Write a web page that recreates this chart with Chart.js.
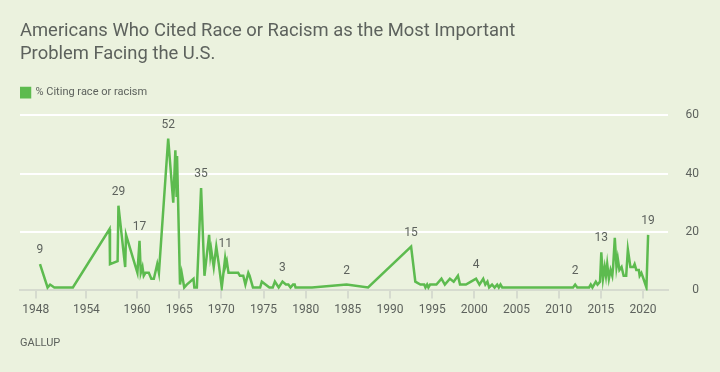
<!DOCTYPE html>
<html>
<head>
<meta charset="utf-8">
<script src="https://cdn.jsdelivr.net/npm/chart.js@4/dist/chart.umd.min.js"></script>
<style>
  html, body { margin: 0; padding: 0; background: #ebf2de; }
  #wrap { width: 720px; height: 372px; }
</style>
</head>
<body>
<div id="wrap"><canvas id="raceChart"></canvas></div>
<script>
// survey dates (decimal year) and % citing race or racism
const surveyYears = [
  1948.5, 1949.4, 1949.7, 1950.2, 1952.4, 1956.75, 1956.8, 1957.7, 1957.8, 1958.6,
  1958.7, 1960.05, 1960.3, 1960.45, 1960.65, 1960.8, 1961.0, 1961.4, 1961.7, 1962.0,
  1962.4, 1962.6, 1963.7, 1964.3, 1964.55, 1964.7, 1964.75, 1965.1, 1965.3, 1965.6,
  1965.9, 1966.7, 1966.8, 1967.1, 1967.6, 1968.0, 1968.55, 1968.7, 1968.8, 1969.1,
  1969.4, 1969.7, 1970.05, 1970.45, 1970.55, 1970.65, 1970.85, 1971.3, 1972.0, 1972.2,
  1972.6, 1972.85, 1973.2, 1973.35, 1973.75, 1974.6, 1974.8, 1975.7, 1976.1, 1976.35,
  1976.8, 1977.25, 1977.65, 1977.95, 1978.2, 1978.5, 1978.7, 1978.8, 1980.75, 1984.85,
  1987.4, 1992.5, 1993.0, 1993.6, 1994.05, 1994.2, 1994.4, 1994.55, 1994.75, 1995.05,
  1995.5, 1996.1, 1996.5, 1997.1, 1997.55, 1998.05, 1998.3, 1999.0, 1999.6, 2000.2,
  2000.6, 2001.05, 2001.3, 2001.55, 2001.75, 2002.1, 2002.4, 2002.7, 2002.9, 2003.1,
  2003.3, 2011.7, 2011.95, 2012.2, 2013.6, 2013.8, 2014.0, 2014.4, 2014.6, 2014.9,
  2015.05, 2015.25, 2015.45, 2015.6, 2015.75, 2015.95, 2016.15, 2016.35, 2016.45, 2016.65,
  2016.85, 2017.0, 2017.2, 2017.45, 2017.7, 2018.0, 2018.2, 2018.5, 2018.85, 2019.0,
  2019.2, 2019.5, 2019.6, 2019.8, 2020.05, 2020.4, 2020.6
];
const pctRace = [
  9, 1, 2, 1, 1, 21, 9, 10, 29, 8,
  19, 6, 17, 6, 8, 5, 6, 6, 4, 4,
  9, 6, 52, 30, 48, 32, 46, 2, 6, 1,
  2, 4, 1, 1, 35, 5, 19, 12, 14, 8,
  15, 9, 1, 11, 9, 10, 6, 6, 6, 5,
  5, 2, 6, 5, 1, 1, 3, 1, 1, 3,
  1, 3, 2, 2, 1, 2, 2, 1, 1, 2,
  1, 15, 3, 2, 2, 1, 2, 1, 2, 2,
  2, 4, 2, 4, 3, 5, 2, 2, 3, 4,
  2, 4, 2, 3, 1, 2, 1, 2, 1, 2,
  1, 1, 2, 1, 1, 2, 1, 3, 2, 3,
  13, 4, 8, 5, 9, 4, 7, 5, 8, 18,
  8, 11, 7, 8, 5, 5, 14, 8, 8, 9,
  7, 7, 5, 6, 4, 1, 19
];
// points that carry a value label
const labelYears = [1948.5, 1957.8, 1960.3, 1963.7, 1967.6, 1970.45, 1977.25, 1984.85, 1992.5, 2000.2, 2011.95, 2015.05, 2020.6];
const xTickYears = [1948, 1954, 1960, 1965, 1970, 1975, 1980, 1985, 1990, 1995, 2000, 2005, 2010, 2015, 2020];
const yTickValues = [0, 20, 40, 60];

const green = '#5dbb4f';
const textGray = '#5d625d';

// draw the value labels above selected points
const pointLabels = {
    id: 'pointLabels',
    afterDatasetsDraw(chart) {
        const ctx = chart.ctx;
        const meta = chart.getDatasetMeta(0);
        ctx.save();
        ctx.font = '12px Roboto';
        ctx.fillStyle = textGray;
        ctx.textAlign = 'center';
        ctx.textBaseline = 'middle';
        surveyYears.forEach((yr, i) => {
            if (!labelYears.includes(yr)) return;
            const pt = meta.data[i];
            ctx.fillText(String(pctRace[i]), pt.x, pt.y - 14);
        });
        ctx.restore();
    }
};

const canvas = document.getElementById('raceChart');
new Chart(canvas.getContext('2d'), {
    type: 'line',
    data: {
        datasets: [{
            label: '% Citing race or racism',
            data: surveyYears.map((yr, i) => ({ x: yr, y: pctRace[i] })),
            borderColor: green,
            backgroundColor: green,
            borderWidth: 2.5,
            pointRadius: 0,
            tension: 0
        }]
    },
    options: {
        responsive: true,
        maintainAspectRatio: false,
        animation: false,
        layout: { padding: { left: 20, right: 21, top: 0, bottom: 22 } },
        plugins: {
            title: {
                display: true,
                text: ['Americans Who Cited Race or Racism as the Most Important', 'Problem Facing the U.S.'],
                align: 'start',
                color: textGray,
                font: { family: 'Roboto', size: 18.4, weight: 'normal', lineHeight: 1.3 },
                padding: { top: 19, bottom: 20 }
            },
            subtitle: {
                display: true,
                position: 'bottom',
                text: 'GALLUP',
                align: 'start',
                color: textGray,
                font: { family: 'Roboto', size: 11, weight: 'normal' },
                padding: { top: 16, bottom: 0 }
            },
            legend: {
                align: 'start',
                labels: {
                    boxWidth: 10,
                    boxHeight: 10,
                    color: textGray,
                    font: { family: 'Roboto', size: 11 },
                    padding: 0
                }
            },
            tooltip: { enabled: false }
        },
        scales: {
            x: {
                type: 'linear',
                min: 1946.13,
                max: 2022.9,
                afterBuildTicks: (scale) => { scale.ticks = xTickYears.map(v => ({ value: v })); },
                ticks: {
                    color: textGray,
                    font: { family: 'Roboto', size: 12 },
                    padding: 4,
                    maxRotation: 0,
                    autoSkip: false,
                    callback: (v) => String(v)
                },
                grid: { drawOnChartArea: false, drawTicks: true, tickLength: 8, color: '#d6dbcf', lineWidth: 2 },
                border: { display: true, color: '#d6dbcf', width: 2 }
            },
            y: {
                position: 'right',
                min: 0,
                max: 62.5,
                afterBuildTicks: (scale) => { scale.ticks = yTickValues.map(v => ({ value: v })); },
                ticks: {
                    color: textGray,
                    font: { family: 'Roboto', size: 12 },
                    padding: 9,
                    crossAlign: 'far'
                },
                grid: {
                    drawTicks: false,
                    lineWidth: 2,
                    color: (c) => c.tick && c.tick.value === 0 ? 'rgba(0,0,0,0)' : '#ffffff'
                },
                border: { display: false }
            }
        }
    },
    plugins: [pointLabels]
});
</script>
</body>
</html>
